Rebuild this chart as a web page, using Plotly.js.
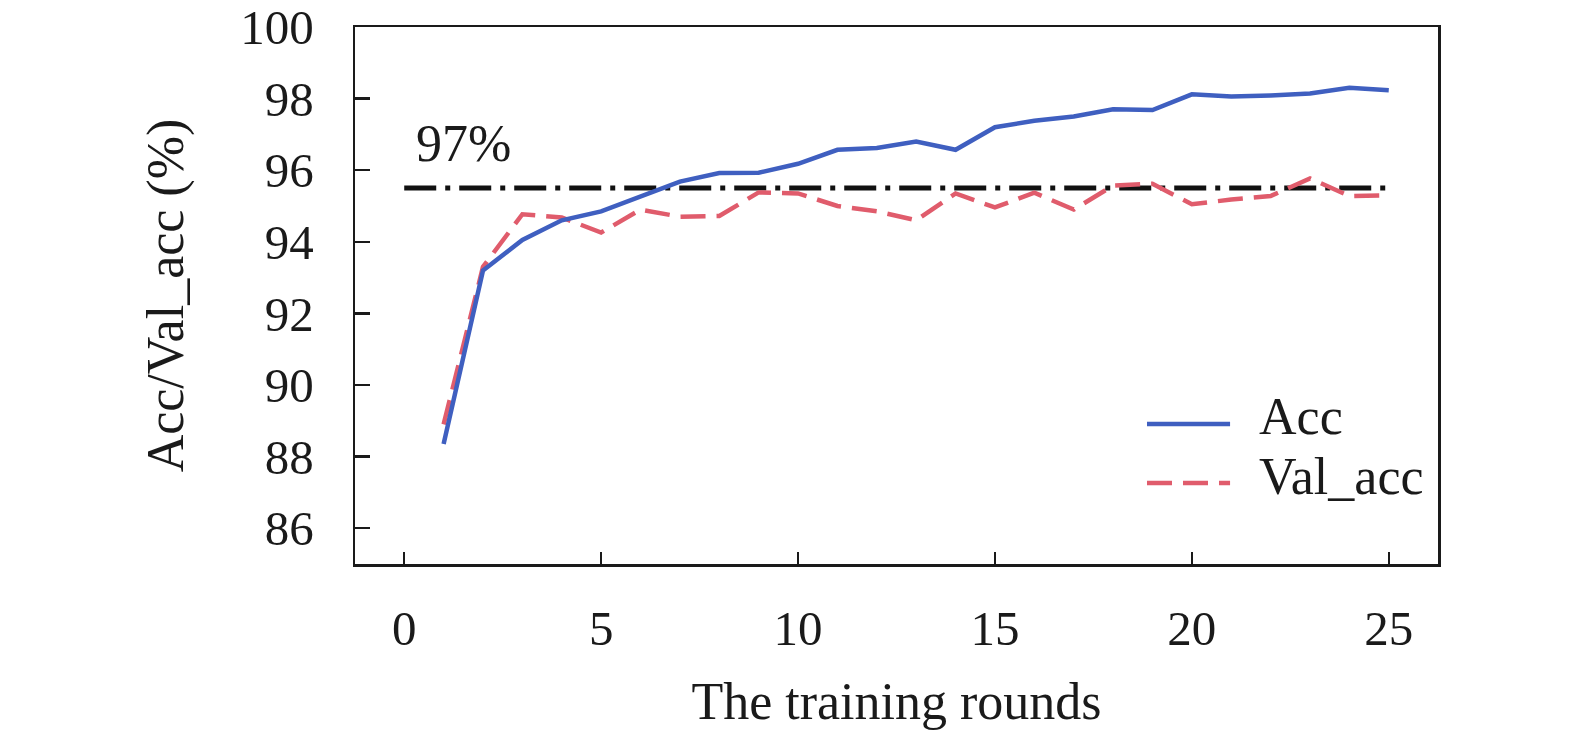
<!DOCTYPE html>
<html>
<head>
<meta charset="utf-8">
<script src="https://cdn.plot.ly/plotly-3.0.1.min.js"></script>
<style>html,body{margin:0;padding:0;background:#fff;}#chart{width:1575px;height:746px;}</style>
</head>
<body>
<div id="chart"></div>
<script>
var rounds = [1,2,3,4,5,6,7,8,9,10,11,12,13,14,15,16,17,18,19,20,21,22,23,24,25];
var acc = [88.35,93.2,94.05,94.6,94.85,95.25,95.68,95.92,95.93,96.18,96.57,96.62,96.8,96.57,97.2,97.38,97.5,97.7,97.68,98.12,98.06,98.09,98.14,98.3,98.23];
var valAcc = [88.9,93.3,94.77,94.68,94.26,94.9,94.7,94.72,95.38,95.35,95.0,94.85,94.6,95.35,94.96,95.37,94.9,95.57,95.62,95.05,95.18,95.28,95.77,95.28,95.3];
var refX = [0, 25];
var refLevel = 95.5;
var refLabel = "97%";
var seriesNames = ["Acc", "Val_acc"];
var xTicks = [0,5,10,15,20,25];
var yTicks = [86,88,90,92,94,96,98,100];

var FONT = "Liberation Serif, Times New Roman, serif";
var INK = "#1a1a1a";
var BLUE = "#3f5fc0";
var RED = "#e05c6c";

var traces = [
  {x: refX, y: refX.map(function(){return refLevel;}), mode: "lines", showlegend: false, hoverinfo: "skip",
   line: {color: "#111", width: 5, dash: "32px,9px,5px,9px"}},
  {x: rounds, y: valAcc, mode: "lines", name: seriesNames[1], showlegend: false,
   line: {color: RED, width: 4.5, dash: "25px,11px"}},
  {x: rounds, y: acc, mode: "lines", name: seriesNames[0], showlegend: false,
   line: {color: BLUE, width: 4.5}}
];

var layout = {
  width: 1575, height: 746,
  margin: {l: 355, r: 137, t: 27, b: 182},
  paper_bgcolor: "#fff", plot_bgcolor: "#fff",
  font: {family: FONT, color: INK, size: 49},
  showlegend: false,
  xaxis: {
    range: [-1.25, 26.25], tickvals: xTicks, ticktext: xTicks.map(String),
    ticks: "inside", ticklen: 12, tickwidth: 2.5, tickcolor: INK,
    showline: true, linewidth: 2.5, linecolor: INK, mirror: true,
    showgrid: false, zeroline: false, automargin: false,
    ticklabelstandoff: 20,
    tickfont: {family: FONT, size: 49, color: INK},
    title: {text: "The training rounds", font: {family: FONT, size: 52, color: INK}, standoff: 28}
  },
  yaxis: {
    range: [85, 100], tickvals: yTicks, ticktext: yTicks.map(String),
    ticks: "inside", ticklen: 15, tickwidth: 2.5, tickcolor: INK,
    showline: true, linewidth: 2.5, linecolor: INK, mirror: true,
    showgrid: false, zeroline: false, automargin: false,
    ticklabelstandoff: 29,
    tickfont: {family: FONT, size: 49, color: INK},
    title: {text: "Acc/Val_acc (%)", font: {family: FONT, size: 52, color: INK}, standoff: 40}
  },
  annotations: [
    {x: 0.25, y: 96.75, xref: "x", yref: "y", text: refLabel, showarrow: false,
     xanchor: "left", yanchor: "middle", font: {family: FONT, size: 52, color: INK}},
    {x: 0.833, y: 0.275, xref: "paper", yref: "paper", text: seriesNames[0], showarrow: false,
     xanchor: "left", yanchor: "middle", font: {family: FONT, size: 52, color: INK}},
    {x: 0.833, y: 0.163, xref: "paper", yref: "paper", text: seriesNames[1], showarrow: false,
     xanchor: "left", yanchor: "middle", font: {family: FONT, size: 52, color: INK}}
  ],
  shapes: [
    {type: "line", xref: "paper", yref: "paper", x0: 0.7313, x1: 0.808, y0: 0.2607, y1: 0.2607,
     line: {color: BLUE, width: 4.5}},
    {type: "line", xref: "paper", yref: "paper", x0: 0.7313, x1: 0.808, y0: 0.1508, y1: 0.1508,
     line: {color: RED, width: 4.5, dash: "25px,11px"}}
  ]
};

Plotly.newPlot("chart", traces, layout, {displayModeBar: false, staticPlot: true});
</script>
</body>
</html>
